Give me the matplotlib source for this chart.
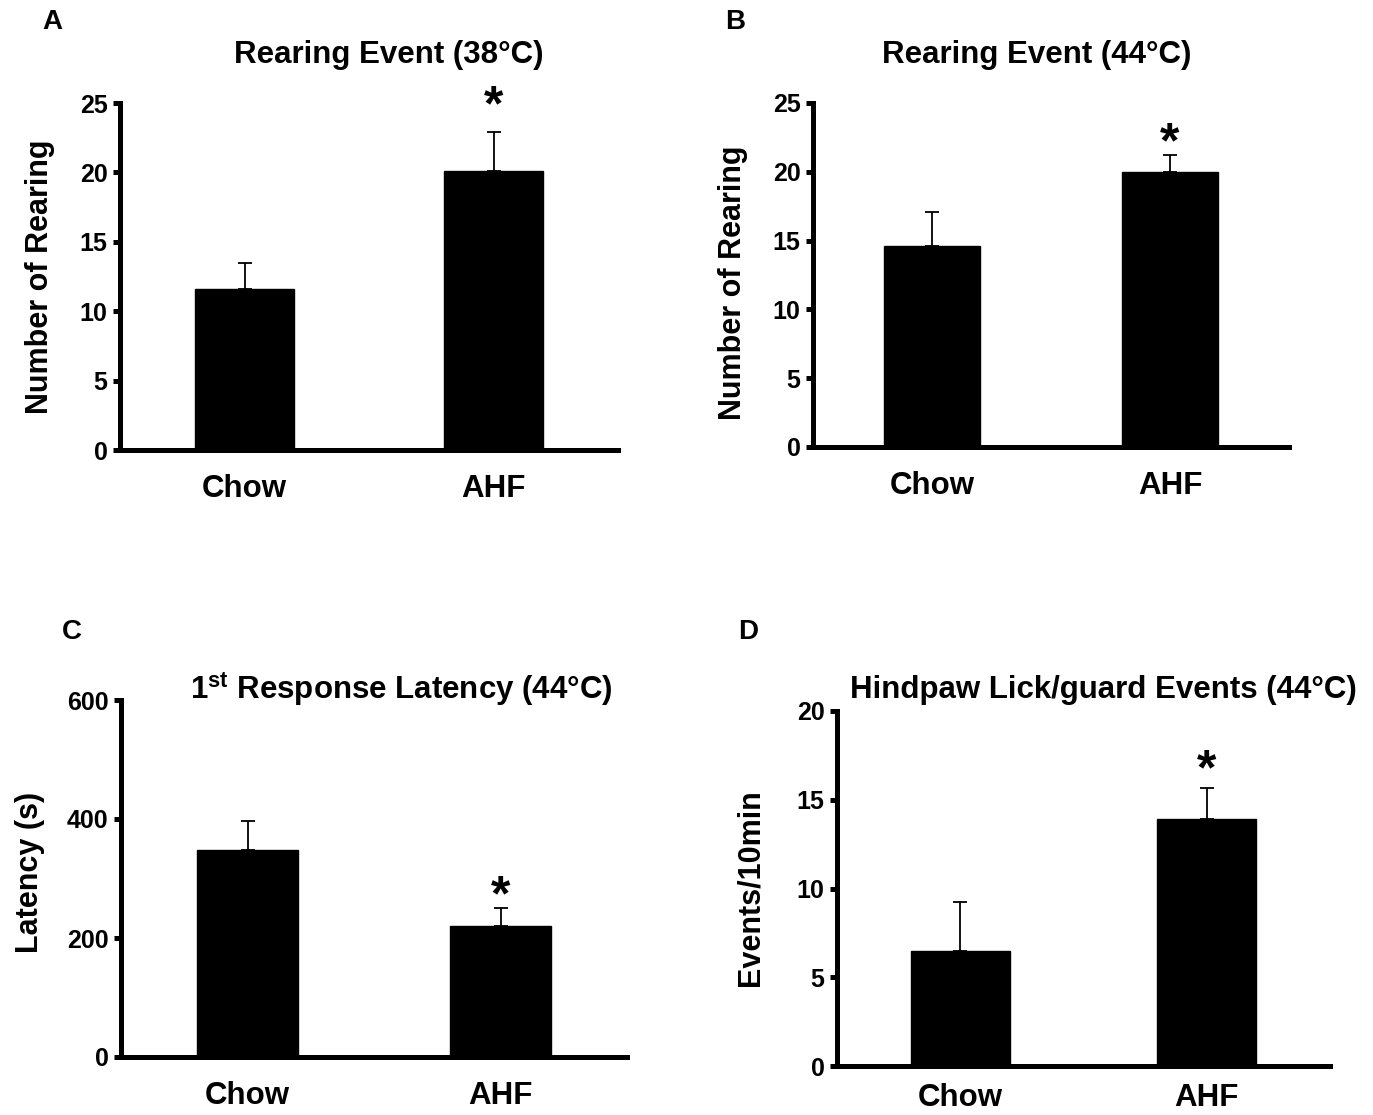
import matplotlib
matplotlib.use('Agg')
import matplotlib.pyplot as plt

# data
groups = ['Chow', 'AHF']

rear38_mean = [11.6, 20.1]
rear38_sem = [1.9, 2.8]

rear44_mean = [14.6, 20.0]
rear44_sem = [2.5, 1.2]

latency_mean = [348, 220]
latency_sem = [48, 30]

lick_mean = [6.5, 13.9]
lick_sem = [2.75, 1.75]

plt.rcParams['font.family'] = ['Liberation Sans', 'DejaVu Sans']
plt.rcParams['font.weight'] = 'bold'
plt.rcParams['mathtext.fontset'] = 'custom'
plt.rcParams['mathtext.bf'] = 'Liberation Sans:bold'
plt.rcParams['mathtext.rm'] = 'Liberation Sans:bold'

W, H = 1373, 1115
fig = plt.figure(figsize=(W / 100, H / 100), dpi=100)


def rect(left, right, top, bottom):
    return [left / W, 1 - bottom / H, (right - left) / W, (bottom - top) / H]


def ftext(x, y, s, **kw):
    fig.text(x / W, 1 - y / H, s, **kw)


def panel(box, means, sems, ymax, yticks, star_off, xpad=17):
    ax = fig.add_axes(rect(*box))
    x = [0, 1]
    ax.bar(x, means, width=0.4, color='black', edgecolor='black', zorder=2)
    ax.errorbar(x, means, yerr=[[0, 0], sems], fmt='none', ecolor='black',
                elinewidth=1.3, capsize=5, capthick=1.3, zorder=1)
    # significance star above AHF
    ax.annotate('*', xy=(1, means[1] + sems[1]), xytext=(0, star_off),
                textcoords='offset points', ha='center', va='center',
                fontsize=36, fontweight='bold')
    ax.set_xlim(-0.5, 1.5)
    ax.set_ylim(0, ymax)
    ax.set_yticks(yticks)
    ax.set_xticks(x)
    ax.set_xticklabels(groups, fontsize=22.5, fontweight='bold')
    ax.tick_params(axis='x', length=0, pad=xpad)
    ax.tick_params(axis='y', direction='out', length=5, width=3.6,
                   labelsize=18, pad=4)
    for lab in ax.get_yticklabels():
        lab.set_fontweight('bold')
    for side in ['top', 'right']:
        ax.spines[side].set_visible(False)
    for side in ['left', 'bottom']:
        ax.spines[side].set_linewidth(3.6)
        ax.spines[side].set_capstyle('projecting')
    ax.patch.set_alpha(0)
    return ax


panel((120, 618, 103, 450), rear38_mean, rear38_sem, 25, [0, 5, 10, 15, 20, 25], 18)
panel((813, 1289, 103, 447), rear44_mean, rear44_sem, 25, [0, 5, 10, 15, 20, 25], 8)
panel((121, 627, 700, 1057), latency_mean, latency_sem, 600, [0, 200, 400, 600], 8)
panel((837, 1330, 711, 1066), lick_mean, lick_sem, 20, [0, 5, 10, 15, 20], 12, xpad=12)

# titles
tkw = dict(ha='center', va='center', fontsize=22.5, fontweight='bold')
ftext(389, 55, 'Rearing Event (38°C)', **tkw)
ftext(1037, 55, 'Rearing Event (44°C)', **tkw)
ftext(401, 690, r'1$^{\mathbf{st}}$ Response Latency (44°C)', **tkw)
ftext(1103, 690, 'Hindpaw Lick/guard Events (44°C)', **tkw)

# y labels
ykw = dict(ha='center', va='center', rotation=90, fontsize=22, fontweight='bold')
ftext(40, 277, 'Number of Rearing', **ykw)
ftext(733, 283, 'Number of Rearing', **ykw)
ftext(30, 872, 'Latency (s)', **ykw)
ftext(750, 888, 'Events/10min', **ykw)

# panel letters
for letter, px, py in [('A', 52, 22), ('B', 735, 22), ('C', 72, 632), ('D', 748, 632)]:
    ftext(px, py, letter, ha='center', va='center', fontsize=20, fontweight='bold')

fig.savefig('out.png', dpi=100)
